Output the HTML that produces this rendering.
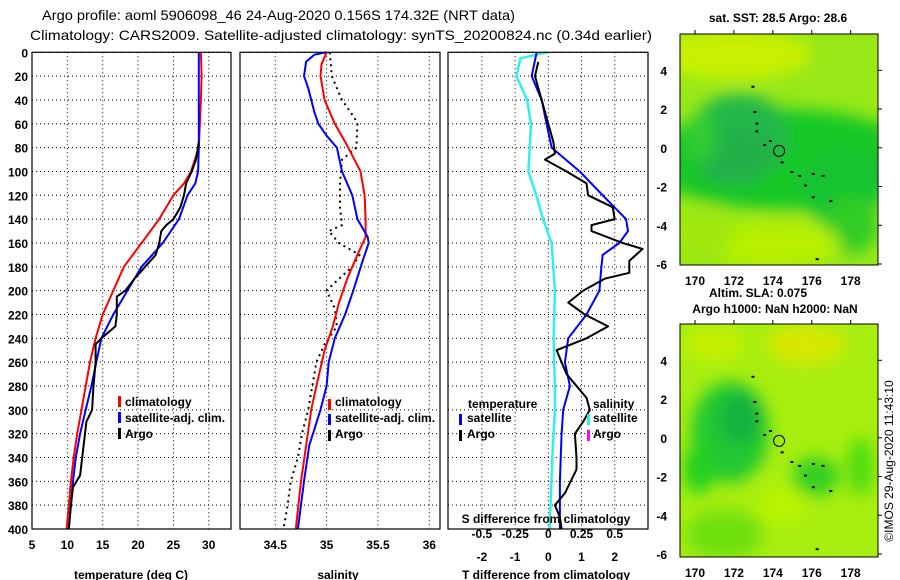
<!DOCTYPE html>
<html><head><meta charset="utf-8"><style>
body{margin:0;background:#fff;}
svg{display:block;font-family:"Liberation Sans",sans-serif;}
.b{font-weight:bold;font-size:12px;}
</style></head><body>
<svg id="s" width="900" height="580" viewBox="0 0 900 580" xmlns="http://www.w3.org/2000/svg">
<defs>
<filter id="bl1" x="-50%" y="-50%" width="200%" height="200%"><feGaussianBlur stdDeviation="8"/></filter>
<clipPath id="cm1"><rect x="680" y="34" width="198" height="231"/></clipPath>
<clipPath id="cm2"><rect x="680" y="324" width="198" height="233"/></clipPath>
</defs>
<text x="42" y="20" font-size="14" textLength="473" lengthAdjust="spacingAndGlyphs">Argo profile: aoml 5906098_46 24-Aug-2020 0.156S 174.32E (NRT data)</text>
<text x="30" y="40" font-size="14" textLength="622" lengthAdjust="spacingAndGlyphs">Climatology: CARS2009. Satellite-adjusted climatology: synTS_20200824.nc (0.34d earlier)</text>
<g id="p1"></g>
<g id="p2"></g>
<g id="p3"></g>
<g id="m1"></g>
<g id="m2"></g>
<text x="778" y="22" class="b" text-anchor="middle">sat. SST: 28.5 Argo: 28.6</text>
<text x="758" y="297" class="b" text-anchor="middle">Altim. SLA: 0.075</text>
<text x="775" y="313" class="b" text-anchor="middle">Argo h1000: NaN h2000: NaN</text>
<text transform="translate(893,461) rotate(-90)" font-size="12" text-anchor="middle">©IMOS 29-Aug-2020 11:43:10</text>
</svg>
<script>
// ---- data ----
const depthTicks=[0,20,40,60,80,100,120,140,160,180,200,220,240,260,280,300,320,340,360,380,400];
const tTicks=[5,10,15,20,25,30];
const sTicks=[34.5,35,35.5,36];
const dTTicks=[-2,-1,0,1,2];
const dSTicks=[-0.5,-0.25,0,0.25,0.5];
const dSTickLabels=["-0.5","-0.25","0","0.25","0.5"];
const climTD=[0,20,40,80,100,110,120,140,160,180,200,220,240,260,280,300,320,340,360,380,400];
const climT=[28.9,29.0,28.9,28.6,27.5,26.5,25,23,20.5,18,16.5,15,14,13.2,12.6,12,11.4,10.9,10.5,10.2,9.9];
const satTD=[0,20,60,80,100,110,120,140,160,180,200,220,240,260,280,300,320,340,360,380,400];
const satT=[28.6,28.6,28.6,28.6,28.5,28.1,27,25.8,23.5,20.5,18.5,16.5,14.8,14.1,13.4,12.6,11.8,11.2,10.8,10.5,10.2];
const argoTD=[75,90,100,110,120,130,140,145,150,160,170,180,190,200,205,220,230,240,245,260,280,300,310,320,340,355,365,380,400];
const argoT=[28.6,28.2,27.6,26.8,26.5,26,25,24,23.3,23,22.5,21,19.5,18.2,17,17,16.8,14.8,14,14,13.7,13.5,12.7,12.5,12.1,11.8,10.8,10.5,10.2];
const climSD=[0,10,20,40,60,75,90,100,120,140,155,170,190,210,230,250,280,300,330,360,400];
const climS=[35.0,34.95,34.94,34.98,35.08,35.18,35.27,35.33,35.37,35.38,35.38,35.3,35.2,35.12,35.06,34.98,34.9,34.85,34.8,34.75,34.7];
const satSD=[0,2,8,20,30,50,60,70,80,100,120,140,155,160,175,200,220,240,260,280,300,330,360,400];
const satS=[35.0,34.88,34.8,34.78,34.82,34.88,34.92,35.0,35.1,35.15,35.25,35.3,35.4,35.41,35.35,35.26,35.18,35.08,35.02,35.0,34.94,34.83,34.78,34.72];
const argoSD=[0,20,40,55,60,80,90,110,130,145,150,160,170,180,190,200,215,230,245,260,280,300,320,340,360,380,400];
const argoS=[35.03,35.05,35.15,35.27,35.3,35.29,35.15,35.13,35.13,35.15,35.02,35.12,35.32,35.25,35.12,35.0,35.08,35.1,34.98,34.9,34.86,34.82,34.76,34.72,34.65,34.62,34.58];
const dTsatD=[0,20,40,60,80,100,120,140,150,160,170,180,200,220,240,260,280,300,320,360,400];
const dTsat=[-0.35,-0.5,-0.2,-0.05,0.1,0.95,1.64,2.34,2.4,2.14,1.64,1.6,1.54,1.15,0.6,0.5,0.65,0.45,0.4,0.35,0.35];
const dTargoD=[8,20,40,60,75,85,90,100,110,120,130,140,145,150,160,165,175,185,190,200,210,220,230,240,250,270,290,300,310,320,340,350,370,380,390,400];
const dTargo=[-0.3,-0.4,-0.2,0,0.15,0.2,-0.1,0.55,1.15,1.2,1.94,2.0,1.3,1.3,2.24,2.84,2.44,2.44,1.7,1.05,0.6,1.1,1.8,1.15,0.25,0.55,1.15,1.25,1.05,0.8,0.85,0.85,0.5,0.2,0.35,0.4];
const dSsatD=[0,5,20,40,60,80,100,120,140,160,200,240,280,300,340,400];
const dSsat=[-0.01,-0.21,-0.24,-0.16,-0.13,-0.14,-0.15,-0.09,-0.04,0.025,0.05,0.04,0.05,0.05,0.03,0.01];
const latTicks=[4,2,0,-2,-4,-6];
const lonTicks=[170,172,174,176,178];
// ---- helpers ----
const NS="http://www.w3.org/2000/svg";
function mk(par,tag,at,txt){const e=document.createElementNS(NS,tag);for(const k in at)e.setAttribute(k,at[k]);if(txt!==undefined)e.textContent=txt;par.appendChild(e);return e;}
const Y0=52.3,Y1=529;
const yD=d=>Y0+(Y1-Y0)*d/400;
function lin(a,b,pa,pb){return v=>pa+(v-a)*(pb-pa)/(b-a);}
function frame(g,x0,x1){
  for(const d of depthTicks){const ln=mk(g,'line',{x1:x0,x2:x1,y1:yD(d),y2:yD(d),stroke:'#000','stroke-dasharray':'1,3','stroke-width':1});
  
  }
}
function vgrid(g,xs){for(const x of xs){const ln=mk(g,'line',{x1:x,x2:x,y1:Y0,y2:Y1,stroke:'#000','stroke-dasharray':'1,3','stroke-width':1});
  
  }}
function box(g,x0,x1){const r=mk(g,'rect',{x:x0,y:Y0,width:x1-x0,height:Y1-Y0,fill:'none',stroke:'#000','stroke-width':1.2});
  
  }
function line(g,xs,ds,sx,col,w,name,dash){
  const p=xs.map((v,i)=>sx(v).toFixed(1)+','+yD(ds[i]).toFixed(1)).join(' ');
  const e=mk(g,'polyline',{points:p,fill:'none',stroke:col,'stroke-width':w,'stroke-linejoin':'round'});
  if(dash)e.setAttribute('stroke-dasharray',dash);
  
  
}
function txt(g,x,y,s,anchor,name,cls){const t=mk(g,'text',{x:x,y:y,'text-anchor':anchor||'start','class':cls||'b'},s);
  
  return t;}
function legendMark(g,x,y,col,name){const r=mk(g,'rect',{x:x,y:y-10,width:3,height:11,fill:col});
  
  }
// ---- panel 1 ----
const p1=document.getElementById('p1');
const sxT=lin(5,30,32,208.7);
frame(p1,32,231);vgrid(p1,tTicks.map(sxT));
line(p1,climT,climTD,sxT,'#f00',2,'climatology-temperature-line');
line(p1,satT,satTD,sxT,'#00f',2,'satellite-temperature-line');
line(p1,argoT,argoTD,sxT,'#000',2,'argo-temperature-line');
box(p1,32,231);
depthTicks.forEach(d=>txt(p1,28,yD(d)+5,String(d),'end','depth-tick-label'));
tTicks.forEach(v=>txt(p1,sxT(v),549,String(v),'middle','temperature-tick-label'));
txt(p1,131,579,'temperature (deg C)','middle','temperature-axis-title');
legendMark(p1,118,406,'#f00','legend-climatology-marker');txt(p1,125,406,'climatology','start','legend-climatology');
legendMark(p1,118,422,'#00f','legend-satellite-marker');txt(p1,125,422,'satellite-adj. clim.','start','legend-satellite');
legendMark(p1,118,438,'#000','legend-argo-marker');txt(p1,125,438,'Argo','start','legend-argo');
// ---- panel 2 ----
const p2=document.getElementById('p2');
const sxS=lin(34.5,36,275.3,429.3);
frame(p2,240,440);vgrid(p2,sTicks.map(sxS));
line(p2,argoS,argoSD,sxS,'#000',2,'argo-salinity-line','2,4');
line(p2,climS,climSD,sxS,'#f00',2,'climatology-salinity-line');
line(p2,satS,satSD,sxS,'#00f',2,'satellite-salinity-line');
box(p2,240,440);
sTicks.forEach(v=>txt(p2,sxS(v),549,String(v),'middle','salinity-tick-label'));
txt(p2,338,579,'salinity','middle','salinity-axis-title');
legendMark(p2,328,409,'#f00','legend-climatology-marker');txt(p2,335,406,'climatology','start','legend-climatology');
legendMark(p2,328,424,'#00f','legend-satellite-marker');txt(p2,335,422,'satellite-adj. clim.','start','legend-satellite');
legendMark(p2,328,440,'#000','legend-argo-marker');txt(p2,335,438,'Argo','start','legend-argo');
// ---- panel 3 ----
const p3=document.getElementById('p3');
const sxDT=lin(0,2,548.3,614.7);
const sxDS=lin(0,0.5,548.3,614.7);
frame(p3,448,648);vgrid(p3,dTTicks.map(sxDT));
line(p3,dSsat,dSsatD,sxDS,'#2ff0f0',2.5,'salinity-difference-satellite-line');
line(p3,dTsat,dTsatD,sxDT,'#00f',2,'temperature-difference-satellite-line');
line(p3,dTargo,dTargoD,sxDT,'#000',2,'temperature-difference-argo-line');
box(p3,448,648);
dTTicks.forEach(v=>txt(p3,sxDT(v),561,String(v),'middle','t-diff-tick-label'));
dSTicks.forEach((v,i)=>txt(p3,sxDS(v),538,dSTickLabels[i],'middle','s-diff-tick-label'));
txt(p3,546,523,'S difference from climatology','middle','s-diff-axis-title');
txt(p3,546,579,'T difference from climatology','middle','t-diff-axis-title');
txt(p3,468,408,'temperature','start','legend-temperature-header');
txt(p3,593,408,'salinity','start','legend-salinity-header');
legendMark(p3,459,424,'#00f','legend-t-satellite-marker');txt(p3,467,422,'satellite','start','legend-t-satellite');
legendMark(p3,459,440,'#000','legend-t-argo-marker');txt(p3,467,438,'Argo','start','legend-t-argo');
legendMark(p3,587,424,'#2ff0f0','legend-s-satellite-marker');txt(p3,593,422,'satellite','start','legend-s-satellite');
legendMark(p3,587,440,'#f0f','legend-s-argo-marker');txt(p3,593,438,'Argo','start','legend-s-argo');
// ---- maps ----
const lonX=lin(170,178,695,850.7);
function mapAxes(g,top,bot,lat4,latm6,blobs,base,clip){
  const latY=lin(4,-6,lat4,latm6);
  const cg=mk(g,'g',{'clip-path':'url(#'+clip+')'});
  const bg=mk(cg,'rect',{x:680,y:top,width:198,height:bot-top,fill:base});
  
  
  const bgG=mk(cg,'g',{filter:'url(#bl1)'});
  for(const b of blobs){const e=mk(bgG,'ellipse',{cx:lonX(b[0]),cy:latY(b[1]),rx:b[2]*19.4,ry:b[3]*19.4,fill:b[4]});
    
    }
  const isl=[[172.9,3.2],[173,1.9],[173.1,1.3],[173.1,0.9],[173.5,0.2],[173.8,0.4],[174.4,-0.7],[174.9,-1.2],[175.3,-1.4],[175.6,-1.9],[176,-1.3],[176.5,-1.4],[176,-2.5],[176.9,-2.7],[176.2,-5.7]];
  for(const p of isl){const r=mk(cg,'rect',{x:lonX(p[0]),y:latY(p[1]),width:3,height:2,fill:'#000'});
    
    }
  const c=mk(g,'circle',{cx:lonX(174.32),cy:latY(-0.16),r:5.5,fill:'none',stroke:'#000','stroke-width':1});
  
  
  const fr=mk(g,'rect',{x:680,y:top,width:198,height:bot-top,fill:'none',stroke:'#000','stroke-width':1});
  
  
  latTicks.forEach(v=>{txt(g,667,latY(v)+5,String(v),'end','latitude-tick-label');
    const t=mk(g,'line',{x1:878,x2:882,y1:latY(v),y2:latY(v),stroke:'#000'});
    
    });
  lonTicks.forEach(v=>{txt(g,lonX(v),bot+20,String(v),'middle','longitude-tick-label');
    const t=mk(g,'line',{x1:lonX(v),x2:lonX(v),y1:top-4,y2:top,stroke:'#000'});
    
    });
}
mapAxes(document.getElementById('m1'),34,265,70.3,264,[
 [174.5,-0.6,7,2.6,'#18c828'],[172.3,0.6,2.6,2.2,'#22b84a'],[172,-0.5,2,1.5,'#20b048'],[177.5,-2,2.2,2,'#18c430'],[178,-4,1.4,1.5,'#30cc28'],[170.3,0.5,0.8,1.3,'#30cc30'],
 [172,4.8,4,1.3,'#c8f000'],[174,-5,3.5,1.2,'#b8f000'],[170.5,-4.5,1.5,1.3,'#a0e808']],'#98e818','cm1');
mapAxes(document.getElementById('m2'),324,557,360.3,554,[
 [171.8,0.3,2,2.6,'#20c830'],[172.3,1,1,1.3,'#18b040'],[176.2,-2,1.2,1,'#30d020'],[170.2,-1.6,0.8,1.3,'#20d020'],
 [175.7,4.8,2,1,'#d8e800'],[171,4.8,1.5,0.8,'#c8f000'],[174.5,-3.5,1.2,1,'#b8f400'],[178.5,-1.5,0.7,1.5,'#50dc10'],[171.5,-5,2,1.3,'#70e010']],'#a8ee10','cm2');
</script>
</body></html>
